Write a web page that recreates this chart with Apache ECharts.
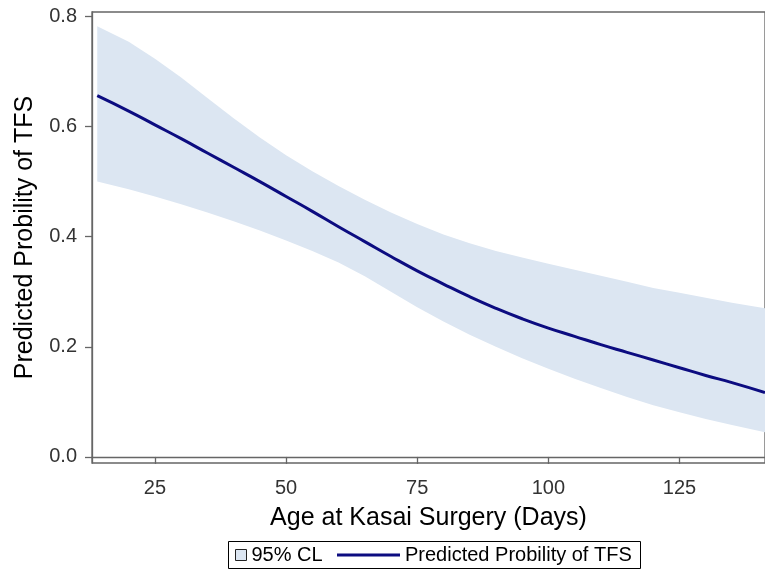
<!DOCTYPE html>
<html>
<head>
<meta charset="utf-8">
<script src="https://cdn.jsdelivr.net/npm/echarts@6/dist/echarts.min.js"></script>
<style>html,body{margin:0;padding:0;background:#fff;}#c{width:765px;height:574px;}</style>
</head>
<body>
<div id="c"></div>
<script>
const ageDays = [14, 20, 25, 30, 35, 40, 45, 50, 55, 60, 65, 70, 75, 80, 85, 90, 95, 100, 105, 110, 115, 120, 125, 130, 135, 141.3];
const predicted = [0.656, 0.628, 0.603, 0.578, 0.552, 0.526, 0.500, 0.473, 0.446, 0.418, 0.391, 0.364, 0.338, 0.314, 0.291, 0.270, 0.251, 0.234, 0.219, 0.204, 0.190, 0.176, 0.162, 0.148, 0.135, 0.117];
const upperCL = [0.782, 0.754, 0.723, 0.689, 0.652, 0.615, 0.580, 0.548, 0.519, 0.492, 0.467, 0.444, 0.423, 0.404, 0.388, 0.374, 0.362, 0.351, 0.340, 0.329, 0.318, 0.307, 0.298, 0.289, 0.280, 0.270];
const lowerCL = [0.500, 0.486, 0.473, 0.459, 0.444, 0.428, 0.411, 0.393, 0.374, 0.353, 0.328, 0.300, 0.272, 0.246, 0.222, 0.200, 0.179, 0.160, 0.142, 0.125, 0.109, 0.094, 0.081, 0.069, 0.058, 0.045];
const xTicks = [25, 50, 75, 100, 125];
const yTicks = [0, 0.2, 0.4, 0.6, 0.8];

const font = 'Liberation Sans, Arial, sans-serif';
const bandColor = '#dce6f2';
const lineColor = '#0c0c80';
const chart = echarts.init(document.getElementById('c'), null, {renderer: 'canvas'});
chart.setOption({
  animation: false,
  backgroundColor: '#fff',
  grid: {left: 92, right: -1, top: 12, bottom: 111, show: true, borderColor: '#666', borderWidth: 1.3, backgroundColor: 'transparent'},
  xAxis: {
    type: 'value', min: 13, max: 141.3,
    name: 'Age at Kasai Surgery (Days)', nameLocation: 'middle', nameGap: 43,
    nameTextStyle: {fontFamily: font, fontSize: 25, color: '#000'},
    axisLine: {show: true, lineStyle: {color: '#666', width: 1.3}},
    axisTick: {show: true, length: 7, customValues: xTicks, lineStyle: {color: '#666', width: 1.3}},
    axisLabel: {customValues: xTicks, margin: 15, fontFamily: font, fontSize: 20, color: '#333'},
    splitLine: {show: false}
  },
  yAxis: {
    type: 'value', min: -0.011, max: 0.808,
    name: 'Predicted Probility of TFS', nameLocation: 'middle', nameGap: 54, nameRotate: 90,
    nameTextStyle: {fontFamily: font, fontSize: 25, color: '#000'},
    axisLine: {show: true, lineStyle: {color: '#666', width: 1.3}},
    axisTick: {show: true, length: 7, customValues: yTicks, lineStyle: {color: '#666', width: 1.3}},
    axisLabel: {customValues: yTicks, margin: 15, fontFamily: font, fontSize: 20, color: '#333',
      formatter: v => v.toFixed(1)},
    splitLine: {show: false}
  },
  legend: [
    {data: [{name: '95% CL', icon: 'rect', itemStyle: {color: bandColor, borderColor: '#222', borderWidth: 1}}],
     left: 235, top: 545, padding: 0, itemWidth: 11, itemHeight: 11, itemGap: 6,
     textStyle: {fontFamily: font, fontSize: 20, color: '#000'}, selectedMode: false},
    {data: [{name: 'Predicted Probility of TFS', icon: 'rect', itemStyle: {color: lineColor}}],
     left: 337, top: 545, padding: 0, itemWidth: 63, itemHeight: 3,
     textStyle: {fontFamily: font, fontSize: 20, color: '#000'}, selectedMode: false}
  ],
  graphic: [{type: 'rect', shape: {x: 228.5, y: 541.5, width: 412, height: 27},
    style: {fill: 'none', stroke: '#000', lineWidth: 1}, silent: true}],
  series: [
    {type: 'custom', name: '95% CL', silent: true,
     itemStyle: {color: bandColor},
     data: ageDays.map((x, i) => [x, lowerCL[i], upperCL[i]]),
     encode: {x: 0, y: [1, 2]},
     renderItem: function (params, api) {
       if (params.dataIndexInside !== 0) return;
       const pts = [];
       for (let i = 0; i < ageDays.length; i++) pts.push(api.coord([ageDays[i], upperCL[i]]));
       for (let i = ageDays.length - 1; i >= 0; i--) pts.push(api.coord([ageDays[i], lowerCL[i]]));
       return {type: 'polygon', shape: {points: pts}, style: {fill: bandColor}};
     }},
    {type: 'line', name: 'Predicted Probility of TFS', smooth: true, symbol: 'none', silent: true,
     data: ageDays.map((x, i) => [x, predicted[i]]),
     itemStyle: {color: lineColor},
     lineStyle: {color: lineColor, width: 3}}
  ]
});
</script>
</body>
</html>
